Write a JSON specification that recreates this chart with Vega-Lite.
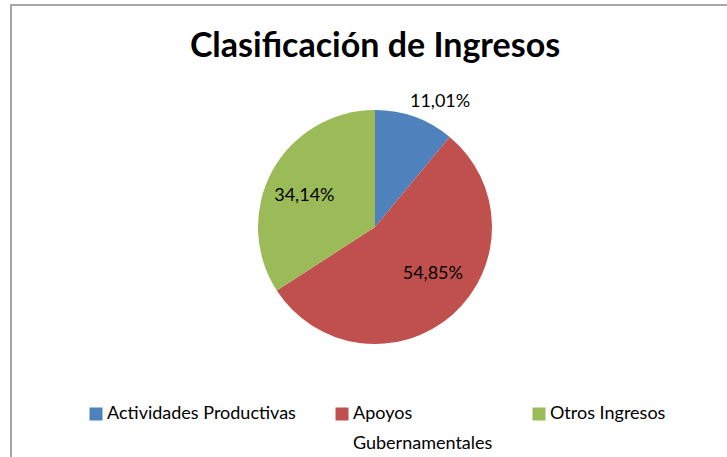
{
  "$schema": "https://vega.github.io/schema/vega-lite/v6.json",
  "width": 728,
  "height": 460,
  "autosize": {"type": "none"},
  "padding": {"left": 11, "top": 5, "right": 0, "bottom": 0},
  "background": "white",
  "view": {"stroke": "#898989", "strokeWidth": 1.5, "fill": "white"},
  "config": {
    "view": {"stroke": "#898989", "strokeWidth": 1.5},
    "font": "Lato"
  },
  "title": {
    "text": "Clasificación de Ingresos",
    "font": "Lato",
    "fontSize": 34,
    "fontWeight": "bold",
    "color": "#000000",
    "anchor": "middle",
    "frame": "group",
    "baseline": "alphabetic",
    "offset": -54,
    "dy": 32
  },
  "data": {
    "values": [
      {"categoria": "Actividades Productivas", "valor": 11.01, "orden": 1},
      {"categoria": "Apoyos Gubernamentales", "valor": 54.85, "orden": 2},
      {"categoria": "Otros Ingresos", "valor": 34.14, "orden": 3}
    ]
  },
  "transform": [
    {"stack": "valor", "groupby": [], "sort": [{"field": "orden", "order": "ascending"}], "as": ["v0", "v1"]},
    {"calculate": "(datum.v0 + datum.v1) / 2", "as": "mid"},
    {"calculate": "replace(format(datum.valor, '.2f'), '.', ',') + '%'", "as": "etiqueta"}
  ],
  "layer": [
    {
      "mark": {"type": "arc", "radius": 117, "yOffset": -8},
      "encoding": {
        "theta": {"field": "v0", "type": "quantitative", "stack": null, "scale": {"domain": [0, 100]}},
        "theta2": {"field": "v1"},
        "color": {
          "field": "categoria",
          "type": "nominal",
          "scale": {
            "domain": ["Actividades Productivas", "Apoyos Gubernamentales", "Otros Ingresos"],
            "range": ["#4F81BD", "#C0504D", "#9BBB59"]
          },
          "legend": {
            "title": null,
            "orient": "none",
            "legendX": 76,
            "legendY": 400,
            "direction": "horizontal",
            "columns": 3,
            "columnPadding": 37,
            "padding": 0,
            "symbolType": "square",
            "symbolSize": 169,
            "symbolStrokeWidth": 0,
            "labelFont": "Lato",
            "labelFontSize": 18,
            "labelColor": "#000000",
            "labelOffset": 2,
            "labelLimit": 400,
            "labelBaseline": "middle",
            "labelExpr": "datum.label == 'Apoyos Gubernamentales' ? ['Apoyos', 'Gubernamentales'] : [datum.label, '']",
            "encode": {
              "labels": {
                "update": {
                  "lineHeight": {"value": 30}
                }
              }
            }
          }
        }
      }
    },
    {
      "transform": [{"filter": "datum.categoria == 'Actividades Productivas'"}],
      "mark": {"type": "text", "radius": 133, "dx": 20, "dy": 0, "yOffset": -8, "font": "Lato", "fontSize": 18, "color": "#000000", "align": "center", "baseline": "middle"},
      "encoding": {
        "theta": {"field": "mid", "type": "quantitative", "stack": null, "scale": {"domain": [0, 100]}},
        "text": {"field": "etiqueta"}
      }
    },
    {
      "transform": [{"filter": "datum.categoria == 'Apoyos Gubernamentales'"}],
      "mark": {"type": "text", "radius": 75, "dx": 8, "dy": -9, "yOffset": -8, "font": "Lato", "fontSize": 18, "color": "#000000", "align": "center", "baseline": "middle"},
      "encoding": {
        "theta": {"field": "mid", "type": "quantitative", "stack": null, "scale": {"domain": [0, 100]}},
        "text": {"field": "etiqueta"}
      }
    },
    {
      "transform": [{"filter": "datum.categoria == 'Otros Ingresos'"}],
      "mark": {"type": "text", "radius": 77, "dx": -3, "dy": 6, "yOffset": -8, "font": "Lato", "fontSize": 18, "color": "#000000", "align": "center", "baseline": "middle"},
      "encoding": {
        "theta": {"field": "mid", "type": "quantitative", "stack": null, "scale": {"domain": [0, 100]}},
        "text": {"field": "etiqueta"}
      }
    }
  ]
}
